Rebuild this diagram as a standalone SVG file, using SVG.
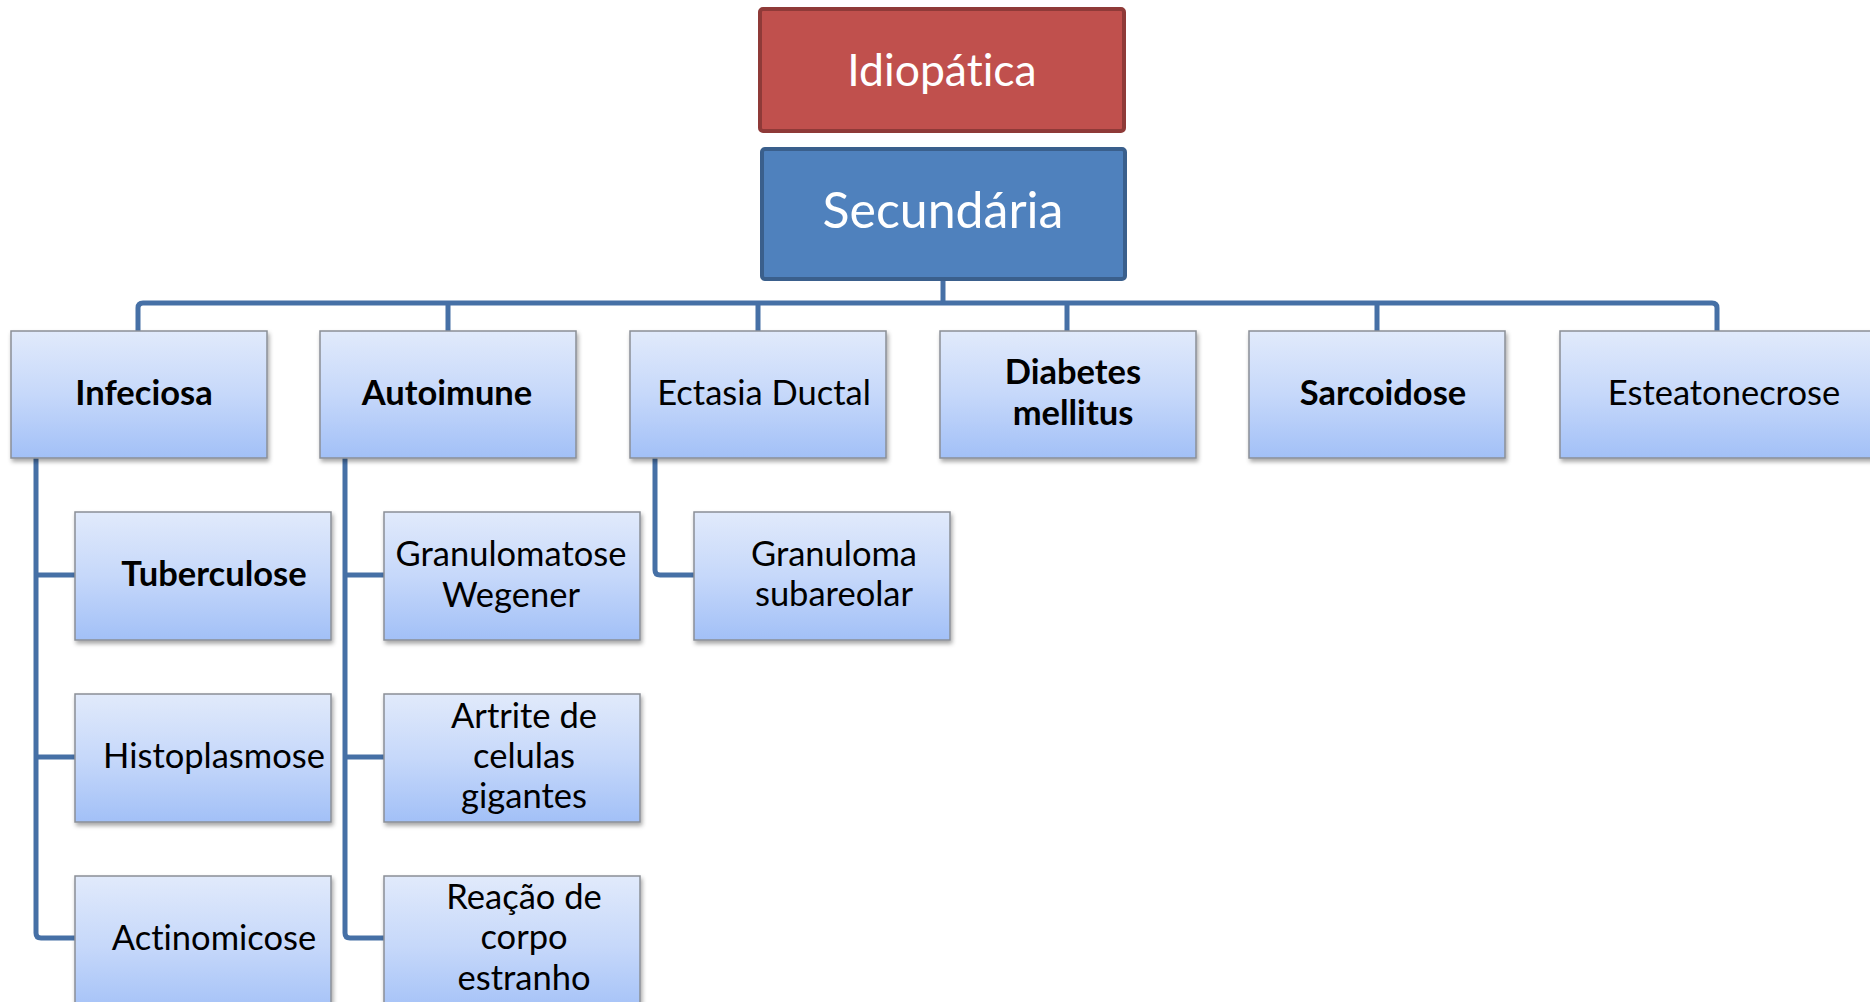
<svg xmlns="http://www.w3.org/2000/svg" width="1870" height="1002" viewBox="0 0 1870 1002">
<style>
  .t{font-family:Lato,"Open Sans","Liberation Sans",sans-serif;font-size:34.5px;fill:#000;text-anchor:middle;font-variant-ligatures:none}
  .b{font-weight:bold}
  .box{fill:url(#g);stroke:#8a8f96;stroke-width:1.5;filter:url(#sh)}
  .con{fill:none;stroke:#4670a6;stroke-width:5;stroke-linejoin:round}
  .top{font-family:Lato,"Open Sans","Liberation Sans",sans-serif;fill:#fff;text-anchor:middle;font-variant-ligatures:none}
</style>
<defs>
  <linearGradient id="g" x1="0" y1="0" x2="0" y2="1">
    <stop offset="0" stop-color="#e1eafb"/>
    <stop offset="0.5" stop-color="#c6d8fa"/>
    <stop offset="1" stop-color="#a2c0f7"/>
  </linearGradient>
  <filter id="sh" x="-10%" y="-10%" width="125%" height="130%">
    <feDropShadow dx="1.5" dy="3" stdDeviation="2" flood-color="#000" flood-opacity="0.35"/>
  </filter>
</defs>
<rect width="1870" height="1002" fill="#fff"/>
<g id="connectors">
  <path class="con" d="M943,280 V303"/>
  <path class="con" d="M138,331 V308 Q138,303 143,303 H1712 Q1717,303 1717,308 V331"/>
  <path class="con" d="M448,303 V331 M758,303 V331 M1067,303 V331 M1377,303 V331"/>
  <path class="con" d="M36,458 V933 Q36,938 41,938 H75 M36,575 H75 M36,757 H75"/>
  <path class="con" d="M345,458 V933 Q345,938 350,938 H384 M345,575 H384 M345,757 H384"/>
  <path class="con" d="M655,458 V570 Q655,575 660,575 H694"/>
</g>
<g id="idiopatica">
  <rect x="760" y="9" width="364" height="122" rx="3" fill="#c0504d" stroke="#8f3a38" stroke-width="4"/>
  <text class="top" x="942" y="86" font-size="44.5">Idiopática</text>
</g>
<g id="secundaria">
  <rect x="762" y="149" width="363" height="130" rx="3" fill="#4f81bd" stroke="#3a5f8c" stroke-width="4"/>
  <text class="top" x="943" y="228" font-size="50">Secundária</text>
</g>
<g id="infeciosa"><rect class="box" x="11" y="331" width="256" height="127"/><text class="t b" x="144" y="405">Infeciosa</text></g>
<g id="autoimune"><rect class="box" x="320" y="331" width="256" height="127"/><text class="t b" x="447" y="405">Autoimune</text></g>
<g id="ectasia"><rect class="box" x="630" y="331" width="256" height="127"/><text class="t" x="764" y="405">Ectasia Ductal</text></g>
<g id="diabetes"><rect class="box" x="940" y="331" width="256" height="127"/><text class="t b" x="1073" y="384">Diabetes</text><text class="t b" x="1073" y="425">mellitus</text></g>
<g id="sarcoidose"><rect class="box" x="1249" y="331" width="256" height="127"/><text class="t b" x="1383" y="405">Sarcoidose</text></g>
<g id="esteatonecrose"><rect class="box" x="1560" y="331" width="330" height="127"/><text class="t" x="1724" y="405">Esteatonecrose</text></g>
<g id="tuberculose"><rect class="box" x="75" y="512" width="256" height="128"/><text class="t b" x="214" y="586">Tuberculose</text></g>
<g id="histoplasmose"><rect class="box" x="75" y="694" width="256" height="128"/><text class="t" x="214" y="768">Histoplasmose</text></g>
<g id="actinomicose"><rect class="box" x="75" y="876" width="256" height="140"/><text class="t" x="214" y="950">Actinomicose</text></g>
<g id="granulomatose"><rect class="box" x="384" y="512" width="256" height="128"/><text class="t" x="511" y="566">Granulomatose</text><text class="t" x="511" y="607">Wegener</text></g>
<g id="artrite"><rect class="box" x="384" y="694" width="256" height="128"/><text class="t" x="524" y="728">Artrite de</text><text class="t" x="524" y="768">celulas</text><text class="t" x="524" y="808">gigantes</text></g>
<g id="reacao"><rect class="box" x="384" y="876" width="256" height="140"/><text class="t" x="524" y="909">Reação de</text><text class="t" x="524" y="949">corpo</text><text class="t" x="524" y="990">estranho</text></g>
<g id="granuloma"><rect class="box" x="694" y="512" width="256" height="128"/><text class="t" x="834" y="566">Granuloma</text><text class="t" x="834" y="606">subareolar</text></g>
</svg>
